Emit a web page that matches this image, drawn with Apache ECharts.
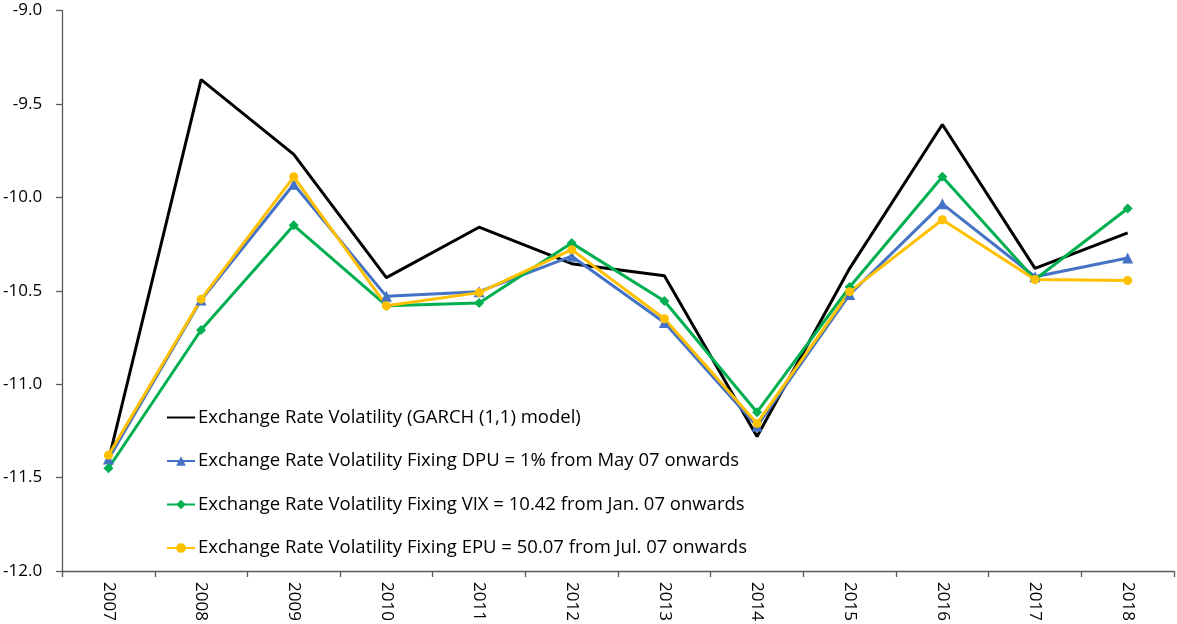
<!DOCTYPE html>
<html>
<head>
<meta charset="utf-8">
<script src="https://cdn.jsdelivr.net/npm/echarts@6/dist/echarts.min.js"></script>
<style>html,body{margin:0;padding:0;background:#fff}#c{width:1177px;height:624px}</style>
</head>
<body>
<div id="c"></div>
<script>
var years = ['2007','2008','2009','2010','2011','2012','2013','2014','2015','2016','2017','2018'];
var garch = [-11.41, -9.37, -9.77, -10.43, -10.16, -10.355, -10.42, -11.28, -10.38, -9.61, -10.38, -10.19];
var dpu   = [-11.40, -10.55, -9.93, -10.53, -10.505, -10.315, -10.67, -11.225, -10.52, -10.035, -10.425, -10.325];
var vix   = [-11.45, -10.71, -10.15, -10.58, -10.565, -10.245, -10.555, -11.15, -10.48, -9.89, -10.44, -10.06];
var epu   = [-11.38, -10.545, -9.89, -10.58, -10.51, -10.28, -10.65, -11.21, -10.505, -10.12, -10.44, -10.445];
var names = [
  'Exchange Rate Volatility (GARCH (1,1) model)',
  'Exchange Rate Volatility Fixing DPU = 1% from May 07 onwards',
  'Exchange Rate Volatility Fixing VIX = 10.42 from Jan. 07 onwards',
  'Exchange Rate Volatility Fixing EPU = 50.07 from Jul. 07 onwards'
];

var chart = echarts.init(document.getElementById('c'), null, {renderer: 'canvas'});
var font = '"Open Sans", "Liberation Sans", sans-serif';
function mk(name, data, color, symbol, size) {
  return {
    name: name, type: 'line', data: data,
    symbol: symbol, symbolSize: size, showSymbol: symbol !== 'none',
    lineStyle: {color: color, width: 3},
    itemStyle: {color: color},
    emphasis: {disabled: true},
    animation: false
  };
}
chart.setOption({
  animation: false,
  backgroundColor: '#fff',
  grid: {left: 62, right: 3, top: 10.5, bottom: 53, containLabel: false},
  legend: {
    orient: 'vertical', left: 166, top: 408, padding: 0,
    itemWidth: 28, itemHeight: 12, itemGap: 24.5,
    textStyle: {fontFamily: font, fontSize: 18.5, color: '#000', padding: [0,0,0,-2]},
    data: [
      {name: names[0], itemStyle: {opacity: 0}},
      names[1], names[2], names[3]
    ]
  },
  xAxis: {
    type: 'category', data: years, boundaryGap: true,
    axisLine: {onZero: false, lineStyle: {color: '#595959', width: 1.3}},
    axisTick: {show: true, length: 6, lineStyle: {color: '#595959', width: 1.3}},
    axisLabel: {rotate: -90, margin: 11, fontFamily: font, fontSize: 17, color: '#000', interval: 0}
  },
  yAxis: {
    type: 'value', min: -12, max: -9, interval: 0.5,
    splitLine: {show: false},
    axisLine: {show: true, lineStyle: {color: '#595959', width: 1.3}},
    axisTick: {show: true, inside: false, length: 6, lineStyle: {color: '#595959', width: 1.3}},
    axisLabel: {margin: 20, fontFamily: font, fontSize: 17, color: '#000',
      formatter: function (v) { return v.toFixed(1); }}
  },
  series: [
    mk(names[0], garch, '#000000', 'none', 0),
    mk(names[1], dpu, '#4472C4', 'triangle', 11),
    mk(names[2], vix, '#00B050', 'diamond', 10),
    mk(names[3], epu, '#FFC000', 'circle', 9)
  ]
});
</script>
</body>
</html>
